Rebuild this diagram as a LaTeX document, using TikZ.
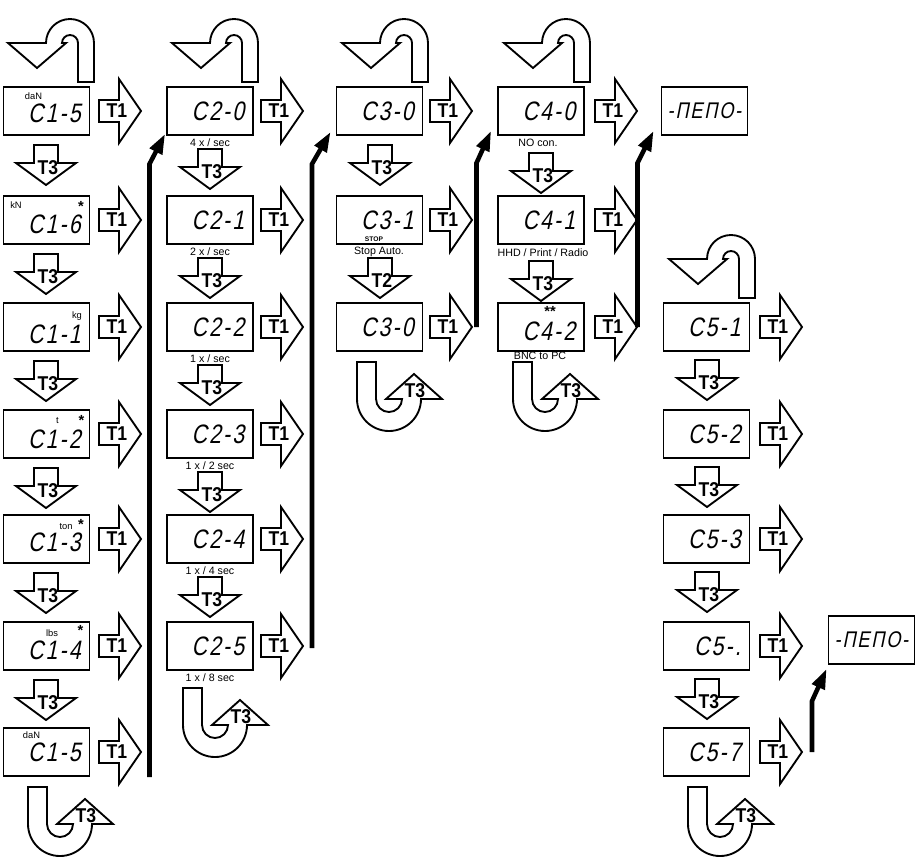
\documentclass[tikz,border=0pt]{standalone}
\usepackage{fontspec}
\setmainfont{Liberation Sans}
\newfontfamily\segfont[FakeSlant=0.2,FakeStretch=0.8,LetterSpace=8]{Liberation Sans}
\newfontfamily\tfont[FakeStretch=0.88]{Liberation Sans}
\usetikzlibrary{arrows.meta}
\tikzset{
  dbox/.style={draw, line width=1.4pt, minimum width=64.5pt, minimum height=36pt, inner sep=0pt},
  digitlab/.style={font={\segfont\fontsize{20pt}{24pt}\selectfont}, inner sep=0pt},
  menulab/.style={font={\segfont\fontsize{17pt}{20pt}\selectfont}, inner sep=0pt},
  blk/.style={draw, line width=1.4pt, fill=white, line join=miter},
  tlab/.style={font={\tfont\bfseries\fontsize{15pt}{18pt}\selectfont}, inner sep=0pt},
  unitlab/.style={font={\fontsize{7pt}{8pt}\selectfont}, inner sep=0pt, anchor=base},
  starlab/.style={font={\bfseries\fontsize{11pt}{12pt}\selectfont}, inner sep=0pt, anchor=base},
  stoplab/.style={font={\bfseries\fontsize{5pt}{6pt}\selectfont}, inner sep=0pt, anchor=base},
  sublab/.style={font={\fontsize{8pt}{9pt}\selectfont}, inner sep=0pt},
  conn/.style={line width=3.4pt, -{Triangle[length=15pt,width=10pt]}},
}
% #1 name, #2 x, #3 y, #4 digits, #5 downward shift of the digits (px)
\newcommand\dispbox[5]{%
  \node[dbox] (#1) at (#2,#3) {};
  \node[digitlab, anchor=east] (#1d) at ([xshift=-7pt,yshift=-#5*0.75pt]#1.east) {#4};
}
\newcommand\tonearr[3]{%
  \draw[blk] (#2,#3-11) -- (#2+20,#3-11) -- (#2+20,#3-32) -- (#2+42,#3) -- (#2+20,#3+32) -- (#2+20,#3+11) -- (#2,#3+11) -- cycle;
  \node[tlab] (#1) at (#2+18,#3) {T1};
}
\newcommand\tdownarr[4]{%
  \draw[blk] (#2-12,#3) -- (#2+12,#3) -- (#2+12,#3+18) -- (#2+30,#3+18) -- (#2,#3+40) -- (#2-30,#3+18) -- (#2-12,#3+18) -- cycle;
  \node[tlab] (#1) at (#2+2,#3+23) {#4};
}
\newcommand\topturn[2]{%
  \draw[blk] (#1+91,#2-5) -- (#1+91,#2-44) arc[start angle=0,end angle=-180,radius=24] -- (#1+5,#2-44) -- (#1+34,#2-19) -- (#1+63,#2-44) -- (#1+59,#2-44) arc[start angle=-180,end angle=0,radius=8] -- (#1+75,#2-5) -- cycle;
}
\newcommand\botturn[3]{%
  \draw[blk] (#2,#3) -- (#2,#3+37) arc[start angle=180,end angle=0,radius=32] -- (#2+85,#3+37) -- (#2+57,#3+12) -- (#2+29,#3+37) -- (#2+45,#3+37) arc[start angle=0,end angle=180,radius=13] -- (#2+19,#3) -- cycle;
  \node[tlab] (#1) at (#2+58,#3+29) {T3};
}
\begin{document}
\begin{tikzpicture}[x=0.75pt,y=-0.75pt]
\fill[white] (0,0) rectangle (919,857);
\useasboundingbox (0,0) rectangle (919,857);

% ---------- return U-turns on top ----------
\topturn{3}{87}
\topturn{167}{87}
\topturn{337}{87}
\topturn{499}{87}
\topturn{664}{303}

% ---------- column 1 ----------
\dispbox{c10}{46.5}{111}{C1-5}{2}
\dispbox{c11}{46.5}{220}{C1-6}{4}
\dispbox{c12}{46.5}{327}{C1-1}{7}
\dispbox{c13}{46.5}{434}{C1-2}{5}
\dispbox{c14}{46.5}{539}{C1-3}{3}
\dispbox{c15}{46.5}{646}{C1-4}{4}
\dispbox{c16}{46.5}{752}{C1-5}{0}
\node[unitlab] (u10) at (33.5,99) {daN};
\node[unitlab] (u11) at (16,208) {kN};
\node[starlab] (s11) at (81,211) {*};
\node[unitlab] (u12) at (77,318) {kg};
\node[unitlab] (u13) at (57.5,423) {t};
\node[starlab] (s13) at (81.5,425) {*};
\node[unitlab] (u14) at (66,529) {ton};
\node[starlab] (s14) at (81,529) {*};
\node[unitlab] (u15) at (52,636) {lbs};
\node[starlab] (s15) at (80.5,635.5) {*};
\node[unitlab] (u16) at (31.5,738) {daN};
\tdownarr{a10}{46}{145}{T3}
\tdownarr{a11}{46}{254}{T3}
\tdownarr{a12}{46}{361}{T3}
\tdownarr{a13}{46}{468}{T3}
\tdownarr{a14}{46}{573}{T3}
\tdownarr{a15}{46}{680}{T3}
\tonearr{b10}{99}{111}
\tonearr{b11}{99}{220}
\tonearr{b12}{99}{327}
\tonearr{b13}{99}{434}
\tonearr{b14}{99}{539}
\tonearr{b15}{99}{646}
\tonearr{b16}{99}{752}
\botturn{v1}{28}{787}

% ---------- column 2 ----------
\dispbox{c20}{210}{111}{C2-0}{0}
\dispbox{c21}{210}{220}{C2-1}{0}
\dispbox{c22}{210}{327}{C2-2}{0}
\dispbox{c23}{210}{434}{C2-3}{0}
\dispbox{c24}{210}{539}{C2-4}{0}
\dispbox{c25}{210}{646}{C2-5}{0}
\node[sublab] (l20) at (210,143) {4 x / sec};
\node[sublab] (l21) at (210,252) {2 x / sec};
\node[sublab] (l22) at (210,359) {1 x / sec};
\node[sublab] (l23) at (210,466) {1 x / 2 sec};
\node[sublab] (l24) at (210,571) {1 x / 4 sec};
\node[sublab] (l25) at (210,678) {1 x / 8 sec};
\tdownarr{a20}{210}{149}{T3}
\tdownarr{a21}{210}{258}{T3}
\tdownarr{a22}{210}{365}{T3}
\tdownarr{a23}{210}{472}{T3}
\tdownarr{a24}{210}{577}{T3}
\tonearr{b20}{261}{111}
\tonearr{b21}{261}{220}
\tonearr{b22}{261}{327}
\tonearr{b23}{261}{434}
\tonearr{b24}{261}{539}
\tonearr{b25}{261}{646}
\botturn{v2}{183}{688}

% ---------- column 3 ----------
\dispbox{c30}{379.5}{111}{C3-0}{0}
\dispbox{c31}{379.5}{220}{C3-1}{0}
\dispbox{c32}{379.5}{327}{C3-0}{0}
\node[stoplab] (st31) at (374,241) {STOP};
\node[sublab] (l31) at (379,252) {Stop Auto.};
\tdownarr{a30}{380}{145}{T3}
\tdownarr{a31}{380}{258}{T2}
\tonearr{b30}{430}{111}
\tonearr{b31}{430}{220}
\tonearr{b32}{430}{327}
\botturn{v3}{357}{362}

% ---------- column 4 ----------
\dispbox{c40}{541}{111}{C4-0}{0}
\dispbox{c41}{541}{220}{C4-1}{0}
\dispbox{c42}{541}{327}{C4-2}{4}
\node[starlab] (s42) at (550,316) {**};
\node[sublab] (l40) at (538,143) {NO con.};
\node[sublab] (l41) at (543,253) {HHD / Print / Radio};
\node[sublab] (l42) at (540,356) {BNC to PC};
\tdownarr{a40}{541}{153}{T3}
\tdownarr{a41}{541}{261}{T3}
\tonearr{b40}{595}{111}
\tonearr{b41}{595}{220}
\tonearr{b42}{595}{327}
\botturn{v4}{513}{362}

% ---------- menu boxes ----------
\node[dbox] (m1) at (704.5,111) {};
\node[menulab] (m1d) at (m1.center) {-ΠEΠO-};
\node[dbox] (m2) at (871.5,640) {};
\node[menulab] (m2d) at (m2.center) {-ΠEΠO-};

% ---------- column 5 ----------
\dispbox{c50}{706.5}{327}{C5-1}{0}
\dispbox{c51}{706.5}{434}{C5-2}{0}
\dispbox{c52}{706.5}{539}{C5-3}{0}
\dispbox{c53}{706.5}{646}{C5-.}{0}
\dispbox{c54}{706.5}{752}{C5-7}{0}
\tdownarr{a50}{707}{360}{T3}
\tdownarr{a51}{707}{467}{T3}
\tdownarr{a52}{707}{572}{T3}
\tdownarr{a53}{707}{679}{T3}
\tonearr{b50}{760}{327}
\tonearr{b51}{760}{434}
\tonearr{b52}{760}{539}
\tonearr{b53}{760}{646}
\tonearr{b54}{760}{752}
\botturn{v5}{688}{787}

% ---------- connectors ----------
\coordinate (k1b) at (149.5,777);
\coordinate (k1m) at (149.5,164);
\draw[conn] (k1b) -- (k1m) -- ([xshift=-0.75pt,yshift=1.5pt]c20.south west);
\coordinate (k2b) at (312,648);
\coordinate (k2m) at (312,164);
\draw[conn] (k2b) -- (k2m) -- ([xshift=-3.75pt,yshift=3pt]c30.south west);
\coordinate (k3b) at (476.5,327);
\coordinate (k3m) at (476.5,163);
\draw[conn] (k3b) -- (k3m) -- ([xshift=-4.5pt,yshift=3.75pt]c40.south west);
\coordinate (k4b) at (637.5,327);
\coordinate (k4m) at (637.5,163);
\draw[conn] (k4b) -- (k4m) -- ([xshift=-5.25pt,yshift=3.75pt]m1.south west);
\coordinate (k5b) at (812,752);
\coordinate (k5m) at (812,701);
\draw[conn] (k5b) -- (k5m) -- ([xshift=-0.75pt,yshift=-3pt]m2.south west);
\end{tikzpicture}
\end{document}
